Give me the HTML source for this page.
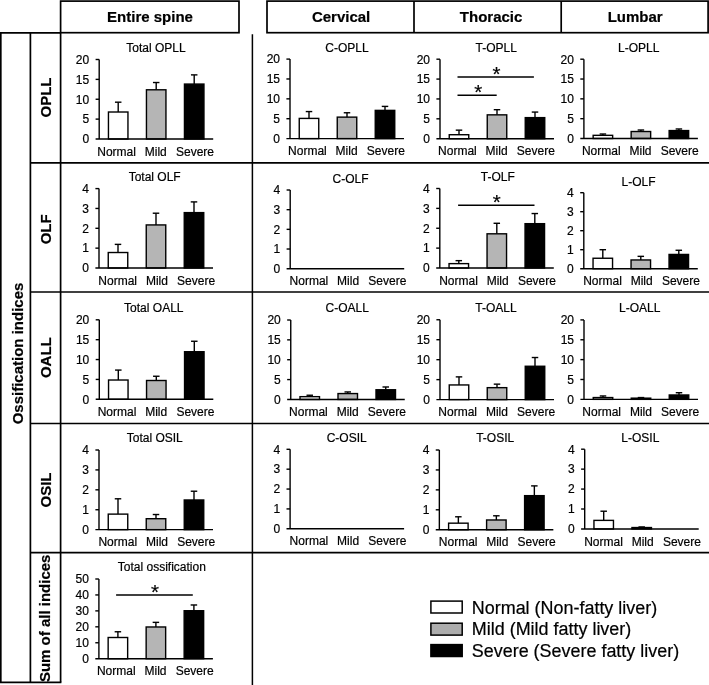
<!DOCTYPE html>
<html><head><meta charset="utf-8"><title>Ossification indices</title>
<style>
html,body{margin:0;padding:0;background:#fff;}
body{width:709px;height:685px;overflow:hidden;}
svg{display:block;will-change:transform;}
text{font-family:"Liberation Sans", sans-serif;fill:#000;stroke:#000;stroke-width:0.2px;}
</style></head>
<body>
<svg width="709" height="685" viewBox="0 0 709 685">
<rect width="709" height="685" fill="#fff"/>
<rect x="60.6" y="1.1" width="178.4" height="31.6" fill="none" stroke="#000" stroke-width="1.7"/>
<rect x="267" y="1.1" width="441.1" height="31.6" fill="none" stroke="#000" stroke-width="1.7"/>
<line x1="414" y1="1.1" x2="414" y2="32.7" stroke="#000" stroke-width="1.7"/>
<line x1="561.2" y1="1.1" x2="561.2" y2="32.7" stroke="#000" stroke-width="1.7"/>
<text x="150" y="22" font-size="15" text-anchor="middle" font-weight="bold">Entire spine</text>
<text x="341.1" y="22" font-size="15" text-anchor="middle" font-weight="bold">Cervical</text>
<text x="491.1" y="22" font-size="15" text-anchor="middle" font-weight="bold">Thoracic</text>
<text x="635.2" y="22" font-size="15" text-anchor="middle" font-weight="bold">Lumbar</text>
<line x1="0" y1="32.8" x2="60.6" y2="32.8" stroke="#000" stroke-width="1.7"/>
<line x1="0.8" y1="32.8" x2="0.8" y2="682.3" stroke="#000" stroke-width="1.7"/>
<line x1="30.4" y1="32.8" x2="30.4" y2="682.3" stroke="#000" stroke-width="1.7"/>
<line x1="60.6" y1="32.8" x2="60.6" y2="682.3" stroke="#000" stroke-width="1.7"/>
<line x1="0" y1="682.3" x2="61.4" y2="682.3" stroke="#000" stroke-width="1.7"/>
<line x1="30.4" y1="162.8" x2="709" y2="162.8" stroke="#000" stroke-width="1.7"/>
<line x1="30.4" y1="292" x2="709" y2="292" stroke="#000" stroke-width="1.7"/>
<line x1="30.4" y1="423.5" x2="709" y2="423.5" stroke="#000" stroke-width="1.7"/>
<line x1="30.4" y1="552.7" x2="709" y2="552.7" stroke="#000" stroke-width="1.7"/>
<line x1="252.4" y1="34.2" x2="252.4" y2="685" stroke="#000" stroke-width="1.5"/>
<text transform="translate(22.8,353.5) rotate(-90)" font-size="15" text-anchor="middle" font-weight="bold">Ossification indices</text>
<text transform="translate(50.6,97.5) rotate(-90)" font-size="15" text-anchor="middle" font-weight="bold">OPLL</text>
<text transform="translate(50.8,229.3) rotate(-90)" font-size="15" text-anchor="middle" font-weight="bold">OLF</text>
<text transform="translate(50.8,357.7) rotate(-90)" font-size="15" text-anchor="middle" font-weight="bold">OALL</text>
<text transform="translate(50.8,490) rotate(-90)" font-size="15" text-anchor="middle" font-weight="bold">OSIL</text>
<text transform="translate(50,618.3) rotate(-90)" font-size="15" text-anchor="middle" font-weight="bold">Sum of all indices</text>
<line x1="118.2" y1="112.01" x2="118.2" y2="102.19" stroke="#000" stroke-width="1.4"/>
<line x1="114.95" y1="102.19" x2="121.45" y2="102.19" stroke="#000" stroke-width="1.4"/>
<rect x="108.45" y="112.01" width="19.5" height="26.99" fill="#fff" stroke="#000" stroke-width="1.4"/>
<line x1="156.2" y1="89.79" x2="156.2" y2="82.52" stroke="#000" stroke-width="1.4"/>
<line x1="152.95" y1="82.52" x2="159.45" y2="82.52" stroke="#000" stroke-width="1.4"/>
<rect x="146.45" y="89.79" width="19.5" height="49.21" fill="#b5b5b5" stroke="#000" stroke-width="1.4"/>
<line x1="194.2" y1="84.07" x2="194.2" y2="74.88" stroke="#000" stroke-width="1.4"/>
<line x1="190.95" y1="74.88" x2="197.45" y2="74.88" stroke="#000" stroke-width="1.4"/>
<rect x="184.45" y="84.07" width="19.5" height="54.93" fill="#000" stroke="#000" stroke-width="1.4"/>
<line x1="99.2" y1="59.5" x2="99.2" y2="139" stroke="#000" stroke-width="1.4"/>
<line x1="95.6" y1="139" x2="213.2" y2="139" stroke="#000" stroke-width="1.4"/>
<text x="89.2" y="143.3" font-size="12" text-anchor="end">0</text>
<line x1="95.6" y1="119.12" x2="99.2" y2="119.12" stroke="#000" stroke-width="1.4"/>
<text x="89.2" y="123.42" font-size="12" text-anchor="end">5</text>
<line x1="95.6" y1="99.25" x2="99.2" y2="99.25" stroke="#000" stroke-width="1.4"/>
<text x="89.2" y="103.55" font-size="12" text-anchor="end">10</text>
<line x1="95.6" y1="79.38" x2="99.2" y2="79.38" stroke="#000" stroke-width="1.4"/>
<text x="89.2" y="83.67" font-size="12" text-anchor="end">15</text>
<line x1="95.6" y1="59.5" x2="99.2" y2="59.5" stroke="#000" stroke-width="1.4"/>
<text x="89.2" y="63.8" font-size="12" text-anchor="end">20</text>
<text x="116.6" y="155.6" font-size="12" text-anchor="middle">Normal</text>
<text x="155.8" y="155.6" font-size="12" text-anchor="middle">Mild</text>
<text x="195" y="155.6" font-size="12" text-anchor="middle">Severe</text>
<text x="155.9" y="51.8" font-size="12" text-anchor="middle">Total OPLL</text>
<line x1="309" y1="118.41" x2="309" y2="111.57" stroke="#000" stroke-width="1.4"/>
<line x1="305.75" y1="111.57" x2="312.25" y2="111.57" stroke="#000" stroke-width="1.4"/>
<rect x="299.25" y="118.41" width="19.5" height="20.19" fill="#fff" stroke="#000" stroke-width="1.4"/>
<line x1="347" y1="117.13" x2="347" y2="112.76" stroke="#000" stroke-width="1.4"/>
<line x1="343.75" y1="112.76" x2="350.25" y2="112.76" stroke="#000" stroke-width="1.4"/>
<rect x="337.25" y="117.13" width="19.5" height="21.47" fill="#b5b5b5" stroke="#000" stroke-width="1.4"/>
<line x1="385" y1="110.38" x2="385" y2="106.4" stroke="#000" stroke-width="1.4"/>
<line x1="381.75" y1="106.4" x2="388.25" y2="106.4" stroke="#000" stroke-width="1.4"/>
<rect x="375.25" y="110.38" width="19.5" height="28.22" fill="#000" stroke="#000" stroke-width="1.4"/>
<line x1="290" y1="59.1" x2="290" y2="138.6" stroke="#000" stroke-width="1.4"/>
<line x1="286.4" y1="138.6" x2="404" y2="138.6" stroke="#000" stroke-width="1.4"/>
<text x="280" y="142.9" font-size="12" text-anchor="end">0</text>
<line x1="286.4" y1="118.72" x2="290" y2="118.72" stroke="#000" stroke-width="1.4"/>
<text x="280" y="123.02" font-size="12" text-anchor="end">5</text>
<line x1="286.4" y1="98.85" x2="290" y2="98.85" stroke="#000" stroke-width="1.4"/>
<text x="280" y="103.15" font-size="12" text-anchor="end">10</text>
<line x1="286.4" y1="78.97" x2="290" y2="78.97" stroke="#000" stroke-width="1.4"/>
<text x="280" y="83.27" font-size="12" text-anchor="end">15</text>
<line x1="286.4" y1="59.1" x2="290" y2="59.1" stroke="#000" stroke-width="1.4"/>
<text x="280" y="63.4" font-size="12" text-anchor="end">20</text>
<text x="307.4" y="155.2" font-size="12" text-anchor="middle">Normal</text>
<text x="346.6" y="155.2" font-size="12" text-anchor="middle">Mild</text>
<text x="385.8" y="155.2" font-size="12" text-anchor="middle">Severe</text>
<text x="347" y="51.5" font-size="12" text-anchor="middle">C-OPLL</text>
<line x1="459" y1="134.72" x2="459" y2="130.15" stroke="#000" stroke-width="1.4"/>
<line x1="455.75" y1="130.15" x2="462.25" y2="130.15" stroke="#000" stroke-width="1.4"/>
<rect x="449.25" y="134.72" width="19.5" height="3.97" fill="#fff" stroke="#000" stroke-width="1.4"/>
<line x1="497" y1="114.85" x2="497" y2="109.68" stroke="#000" stroke-width="1.4"/>
<line x1="493.75" y1="109.68" x2="500.25" y2="109.68" stroke="#000" stroke-width="1.4"/>
<rect x="487.25" y="114.85" width="19.5" height="23.85" fill="#b5b5b5" stroke="#000" stroke-width="1.4"/>
<line x1="535" y1="117.63" x2="535" y2="112.07" stroke="#000" stroke-width="1.4"/>
<line x1="531.75" y1="112.07" x2="538.25" y2="112.07" stroke="#000" stroke-width="1.4"/>
<rect x="525.25" y="117.63" width="19.5" height="21.07" fill="#000" stroke="#000" stroke-width="1.4"/>
<line x1="440" y1="59.2" x2="440" y2="138.7" stroke="#000" stroke-width="1.4"/>
<line x1="436.4" y1="138.7" x2="554" y2="138.7" stroke="#000" stroke-width="1.4"/>
<text x="430" y="143" font-size="12" text-anchor="end">0</text>
<line x1="436.4" y1="118.82" x2="440" y2="118.82" stroke="#000" stroke-width="1.4"/>
<text x="430" y="123.12" font-size="12" text-anchor="end">5</text>
<line x1="436.4" y1="98.95" x2="440" y2="98.95" stroke="#000" stroke-width="1.4"/>
<text x="430" y="103.25" font-size="12" text-anchor="end">10</text>
<line x1="436.4" y1="79.08" x2="440" y2="79.08" stroke="#000" stroke-width="1.4"/>
<text x="430" y="83.38" font-size="12" text-anchor="end">15</text>
<line x1="436.4" y1="59.2" x2="440" y2="59.2" stroke="#000" stroke-width="1.4"/>
<text x="430" y="63.5" font-size="12" text-anchor="end">20</text>
<text x="457.4" y="155.3" font-size="12" text-anchor="middle">Normal</text>
<text x="496.6" y="155.3" font-size="12" text-anchor="middle">Mild</text>
<text x="535.8" y="155.3" font-size="12" text-anchor="middle">Severe</text>
<text x="496.2" y="51.7" font-size="12" text-anchor="middle">T-OPLL</text>
<line x1="457.5" y1="76.9" x2="533.9" y2="76.9" stroke="#000" stroke-width="1.5"/>
<text x="496.45" y="80.9" font-size="20.5" text-anchor="middle">*</text>
<line x1="457.5" y1="95.3" x2="496.7" y2="95.3" stroke="#000" stroke-width="1.5"/>
<text x="478.2" y="99.3" font-size="20.5" text-anchor="middle">*</text>
<line x1="602.9" y1="135.33" x2="602.9" y2="134.02" stroke="#000" stroke-width="1.4"/>
<line x1="599.65" y1="134.02" x2="606.15" y2="134.02" stroke="#000" stroke-width="1.4"/>
<rect x="593.15" y="135.33" width="19.5" height="3.17" fill="#fff" stroke="#000" stroke-width="1.4"/>
<line x1="640.9" y1="131.52" x2="640.9" y2="130.01" stroke="#000" stroke-width="1.4"/>
<line x1="637.65" y1="130.01" x2="644.15" y2="130.01" stroke="#000" stroke-width="1.4"/>
<rect x="631.15" y="131.52" width="19.5" height="6.98" fill="#b5b5b5" stroke="#000" stroke-width="1.4"/>
<line x1="678.9" y1="130.57" x2="678.9" y2="128.98" stroke="#000" stroke-width="1.4"/>
<line x1="675.65" y1="128.98" x2="682.15" y2="128.98" stroke="#000" stroke-width="1.4"/>
<rect x="669.15" y="130.57" width="19.5" height="7.93" fill="#000" stroke="#000" stroke-width="1.4"/>
<line x1="583.9" y1="59.2" x2="583.9" y2="138.5" stroke="#000" stroke-width="1.4"/>
<line x1="580.3" y1="138.5" x2="697.9" y2="138.5" stroke="#000" stroke-width="1.4"/>
<text x="573.9" y="142.8" font-size="12" text-anchor="end">0</text>
<line x1="580.3" y1="118.67" x2="583.9" y2="118.67" stroke="#000" stroke-width="1.4"/>
<text x="573.9" y="122.97" font-size="12" text-anchor="end">5</text>
<line x1="580.3" y1="98.85" x2="583.9" y2="98.85" stroke="#000" stroke-width="1.4"/>
<text x="573.9" y="103.15" font-size="12" text-anchor="end">10</text>
<line x1="580.3" y1="79.03" x2="583.9" y2="79.03" stroke="#000" stroke-width="1.4"/>
<text x="573.9" y="83.33" font-size="12" text-anchor="end">15</text>
<line x1="580.3" y1="59.2" x2="583.9" y2="59.2" stroke="#000" stroke-width="1.4"/>
<text x="573.9" y="63.5" font-size="12" text-anchor="end">20</text>
<text x="601.3" y="155.1" font-size="12" text-anchor="middle">Normal</text>
<text x="640.5" y="155.1" font-size="12" text-anchor="middle">Mild</text>
<text x="679.7" y="155.1" font-size="12" text-anchor="middle">Severe</text>
<text x="638.7" y="51.7" font-size="12" text-anchor="middle">L-OPLL</text>
<line x1="118" y1="252.52" x2="118" y2="244.38" stroke="#000" stroke-width="1.4"/>
<line x1="114.75" y1="244.38" x2="121.25" y2="244.38" stroke="#000" stroke-width="1.4"/>
<rect x="108.25" y="252.52" width="19.5" height="15.48" fill="#fff" stroke="#000" stroke-width="1.4"/>
<line x1="156" y1="224.93" x2="156" y2="213.21" stroke="#000" stroke-width="1.4"/>
<line x1="152.75" y1="213.21" x2="159.25" y2="213.21" stroke="#000" stroke-width="1.4"/>
<rect x="146.25" y="224.93" width="19.5" height="43.07" fill="#b5b5b5" stroke="#000" stroke-width="1.4"/>
<line x1="194" y1="212.62" x2="194" y2="201.9" stroke="#000" stroke-width="1.4"/>
<line x1="190.75" y1="201.9" x2="197.25" y2="201.9" stroke="#000" stroke-width="1.4"/>
<rect x="184.25" y="212.62" width="19.5" height="55.38" fill="#000" stroke="#000" stroke-width="1.4"/>
<line x1="99" y1="188.6" x2="99" y2="268" stroke="#000" stroke-width="1.4"/>
<line x1="95.4" y1="268" x2="213" y2="268" stroke="#000" stroke-width="1.4"/>
<text x="89" y="272.3" font-size="12" text-anchor="end">0</text>
<line x1="95.4" y1="248.15" x2="99" y2="248.15" stroke="#000" stroke-width="1.4"/>
<text x="89" y="252.45" font-size="12" text-anchor="end">1</text>
<line x1="95.4" y1="228.3" x2="99" y2="228.3" stroke="#000" stroke-width="1.4"/>
<text x="89" y="232.6" font-size="12" text-anchor="end">2</text>
<line x1="95.4" y1="208.45" x2="99" y2="208.45" stroke="#000" stroke-width="1.4"/>
<text x="89" y="212.75" font-size="12" text-anchor="end">3</text>
<line x1="95.4" y1="188.6" x2="99" y2="188.6" stroke="#000" stroke-width="1.4"/>
<text x="89" y="192.9" font-size="12" text-anchor="end">4</text>
<text x="117.7" y="284.6" font-size="12" text-anchor="middle">Normal</text>
<text x="156.9" y="284.6" font-size="12" text-anchor="middle">Mild</text>
<text x="196.1" y="284.6" font-size="12" text-anchor="middle">Severe</text>
<text x="154.7" y="181.4" font-size="12" text-anchor="middle">Total OLF</text>
<line x1="290.2" y1="190" x2="290.2" y2="268.7" stroke="#000" stroke-width="1.4"/>
<line x1="286.6" y1="268.7" x2="404.2" y2="268.7" stroke="#000" stroke-width="1.4"/>
<text x="280.2" y="273" font-size="12" text-anchor="end">0</text>
<line x1="286.6" y1="249.02" x2="290.2" y2="249.02" stroke="#000" stroke-width="1.4"/>
<text x="280.2" y="253.32" font-size="12" text-anchor="end">1</text>
<line x1="286.6" y1="229.35" x2="290.2" y2="229.35" stroke="#000" stroke-width="1.4"/>
<text x="280.2" y="233.65" font-size="12" text-anchor="end">2</text>
<line x1="286.6" y1="209.68" x2="290.2" y2="209.68" stroke="#000" stroke-width="1.4"/>
<text x="280.2" y="213.98" font-size="12" text-anchor="end">3</text>
<line x1="286.6" y1="190" x2="290.2" y2="190" stroke="#000" stroke-width="1.4"/>
<text x="280.2" y="194.3" font-size="12" text-anchor="end">4</text>
<text x="308.9" y="285.3" font-size="12" text-anchor="middle">Normal</text>
<text x="348.1" y="285.3" font-size="12" text-anchor="middle">Mild</text>
<text x="387.3" y="285.3" font-size="12" text-anchor="middle">Severe</text>
<text x="350.6" y="182.8" font-size="12" text-anchor="middle">C-OLF</text>
<line x1="458.8" y1="263.63" x2="458.8" y2="260.65" stroke="#000" stroke-width="1.4"/>
<line x1="455.55" y1="260.65" x2="462.05" y2="260.65" stroke="#000" stroke-width="1.4"/>
<rect x="449.05" y="263.63" width="19.5" height="4.37" fill="#fff" stroke="#000" stroke-width="1.4"/>
<line x1="496.8" y1="233.81" x2="496.8" y2="223.28" stroke="#000" stroke-width="1.4"/>
<line x1="493.55" y1="223.28" x2="500.05" y2="223.28" stroke="#000" stroke-width="1.4"/>
<rect x="487.05" y="233.81" width="19.5" height="34.19" fill="#b5b5b5" stroke="#000" stroke-width="1.4"/>
<line x1="534.8" y1="223.68" x2="534.8" y2="213.54" stroke="#000" stroke-width="1.4"/>
<line x1="531.55" y1="213.54" x2="538.05" y2="213.54" stroke="#000" stroke-width="1.4"/>
<rect x="525.05" y="223.68" width="19.5" height="44.32" fill="#000" stroke="#000" stroke-width="1.4"/>
<line x1="439.8" y1="188.5" x2="439.8" y2="268" stroke="#000" stroke-width="1.4"/>
<line x1="436.2" y1="268" x2="553.8" y2="268" stroke="#000" stroke-width="1.4"/>
<text x="429.8" y="272.3" font-size="12" text-anchor="end">0</text>
<line x1="436.2" y1="248.12" x2="439.8" y2="248.12" stroke="#000" stroke-width="1.4"/>
<text x="429.8" y="252.43" font-size="12" text-anchor="end">1</text>
<line x1="436.2" y1="228.25" x2="439.8" y2="228.25" stroke="#000" stroke-width="1.4"/>
<text x="429.8" y="232.55" font-size="12" text-anchor="end">2</text>
<line x1="436.2" y1="208.38" x2="439.8" y2="208.38" stroke="#000" stroke-width="1.4"/>
<text x="429.8" y="212.68" font-size="12" text-anchor="end">3</text>
<line x1="436.2" y1="188.5" x2="439.8" y2="188.5" stroke="#000" stroke-width="1.4"/>
<text x="429.8" y="192.8" font-size="12" text-anchor="end">4</text>
<text x="458.5" y="284.6" font-size="12" text-anchor="middle">Normal</text>
<text x="497.7" y="284.6" font-size="12" text-anchor="middle">Mild</text>
<text x="536.9" y="284.6" font-size="12" text-anchor="middle">Severe</text>
<text x="497.8" y="181.1" font-size="12" text-anchor="middle">T-OLF</text>
<line x1="458.1" y1="205.3" x2="534.5" y2="205.3" stroke="#000" stroke-width="1.5"/>
<text x="496.85" y="209.3" font-size="20.5" text-anchor="middle">*</text>
<line x1="602.8" y1="258.25" x2="602.8" y2="249.7" stroke="#000" stroke-width="1.4"/>
<line x1="599.55" y1="249.7" x2="606.05" y2="249.7" stroke="#000" stroke-width="1.4"/>
<rect x="593.05" y="258.25" width="19.5" height="10.45" fill="#fff" stroke="#000" stroke-width="1.4"/>
<line x1="640.8" y1="259.96" x2="640.8" y2="256.35" stroke="#000" stroke-width="1.4"/>
<line x1="637.55" y1="256.35" x2="644.05" y2="256.35" stroke="#000" stroke-width="1.4"/>
<rect x="631.05" y="259.96" width="19.5" height="8.74" fill="#b5b5b5" stroke="#000" stroke-width="1.4"/>
<line x1="678.8" y1="254.45" x2="678.8" y2="250.27" stroke="#000" stroke-width="1.4"/>
<line x1="675.55" y1="250.27" x2="682.05" y2="250.27" stroke="#000" stroke-width="1.4"/>
<rect x="669.05" y="254.45" width="19.5" height="14.25" fill="#000" stroke="#000" stroke-width="1.4"/>
<line x1="583.8" y1="192.7" x2="583.8" y2="268.7" stroke="#000" stroke-width="1.4"/>
<line x1="580.2" y1="268.7" x2="697.8" y2="268.7" stroke="#000" stroke-width="1.4"/>
<text x="573.8" y="273" font-size="12" text-anchor="end">0</text>
<line x1="580.2" y1="249.7" x2="583.8" y2="249.7" stroke="#000" stroke-width="1.4"/>
<text x="573.8" y="254" font-size="12" text-anchor="end">1</text>
<line x1="580.2" y1="230.7" x2="583.8" y2="230.7" stroke="#000" stroke-width="1.4"/>
<text x="573.8" y="235" font-size="12" text-anchor="end">2</text>
<line x1="580.2" y1="211.7" x2="583.8" y2="211.7" stroke="#000" stroke-width="1.4"/>
<text x="573.8" y="216" font-size="12" text-anchor="end">3</text>
<line x1="580.2" y1="192.7" x2="583.8" y2="192.7" stroke="#000" stroke-width="1.4"/>
<text x="573.8" y="197" font-size="12" text-anchor="end">4</text>
<text x="602.5" y="285.3" font-size="12" text-anchor="middle">Normal</text>
<text x="641.7" y="285.3" font-size="12" text-anchor="middle">Mild</text>
<text x="680.9" y="285.3" font-size="12" text-anchor="middle">Severe</text>
<text x="638.55" y="186.4" font-size="12" text-anchor="middle">L-OLF</text>
<line x1="118.3" y1="380.02" x2="118.3" y2="370.08" stroke="#000" stroke-width="1.4"/>
<line x1="115.05" y1="370.08" x2="121.55" y2="370.08" stroke="#000" stroke-width="1.4"/>
<rect x="108.55" y="380.02" width="19.5" height="19.28" fill="#fff" stroke="#000" stroke-width="1.4"/>
<line x1="156.3" y1="380.5" x2="156.3" y2="376.25" stroke="#000" stroke-width="1.4"/>
<line x1="153.05" y1="376.25" x2="159.55" y2="376.25" stroke="#000" stroke-width="1.4"/>
<rect x="146.55" y="380.5" width="19.5" height="18.8" fill="#b5b5b5" stroke="#000" stroke-width="1.4"/>
<line x1="194.3" y1="351.72" x2="194.3" y2="341.26" stroke="#000" stroke-width="1.4"/>
<line x1="191.05" y1="341.26" x2="197.55" y2="341.26" stroke="#000" stroke-width="1.4"/>
<rect x="184.55" y="351.72" width="19.5" height="47.58" fill="#000" stroke="#000" stroke-width="1.4"/>
<line x1="99.3" y1="319.8" x2="99.3" y2="399.3" stroke="#000" stroke-width="1.4"/>
<line x1="95.7" y1="399.3" x2="213.3" y2="399.3" stroke="#000" stroke-width="1.4"/>
<text x="89.3" y="403.6" font-size="12" text-anchor="end">0</text>
<line x1="95.7" y1="379.43" x2="99.3" y2="379.43" stroke="#000" stroke-width="1.4"/>
<text x="89.3" y="383.73" font-size="12" text-anchor="end">5</text>
<line x1="95.7" y1="359.55" x2="99.3" y2="359.55" stroke="#000" stroke-width="1.4"/>
<text x="89.3" y="363.85" font-size="12" text-anchor="end">10</text>
<line x1="95.7" y1="339.68" x2="99.3" y2="339.68" stroke="#000" stroke-width="1.4"/>
<text x="89.3" y="343.98" font-size="12" text-anchor="end">15</text>
<line x1="95.7" y1="319.8" x2="99.3" y2="319.8" stroke="#000" stroke-width="1.4"/>
<text x="89.3" y="324.1" font-size="12" text-anchor="end">20</text>
<text x="117" y="415.9" font-size="12" text-anchor="middle">Normal</text>
<text x="156.2" y="415.9" font-size="12" text-anchor="middle">Mild</text>
<text x="195.4" y="415.9" font-size="12" text-anchor="middle">Severe</text>
<text x="153.8" y="311.6" font-size="12" text-anchor="middle">Total OALL</text>
<line x1="309.75" y1="396.67" x2="309.75" y2="395.24" stroke="#000" stroke-width="1.4"/>
<line x1="306.5" y1="395.24" x2="313" y2="395.24" stroke="#000" stroke-width="1.4"/>
<rect x="300" y="396.67" width="19.5" height="2.78" fill="#fff" stroke="#000" stroke-width="1.4"/>
<line x1="347.75" y1="393.57" x2="347.75" y2="391.94" stroke="#000" stroke-width="1.4"/>
<line x1="344.5" y1="391.94" x2="351" y2="391.94" stroke="#000" stroke-width="1.4"/>
<rect x="338" y="393.57" width="19.5" height="5.88" fill="#b5b5b5" stroke="#000" stroke-width="1.4"/>
<line x1="385.75" y1="389.76" x2="385.75" y2="386.98" stroke="#000" stroke-width="1.4"/>
<line x1="382.5" y1="386.98" x2="389" y2="386.98" stroke="#000" stroke-width="1.4"/>
<rect x="376" y="389.76" width="19.5" height="9.69" fill="#000" stroke="#000" stroke-width="1.4"/>
<line x1="290.75" y1="320" x2="290.75" y2="399.45" stroke="#000" stroke-width="1.4"/>
<line x1="287.15" y1="399.45" x2="404.75" y2="399.45" stroke="#000" stroke-width="1.4"/>
<text x="280.75" y="403.75" font-size="12" text-anchor="end">0</text>
<line x1="287.15" y1="379.59" x2="290.75" y2="379.59" stroke="#000" stroke-width="1.4"/>
<text x="280.75" y="383.89" font-size="12" text-anchor="end">5</text>
<line x1="287.15" y1="359.73" x2="290.75" y2="359.73" stroke="#000" stroke-width="1.4"/>
<text x="280.75" y="364.03" font-size="12" text-anchor="end">10</text>
<line x1="287.15" y1="339.86" x2="290.75" y2="339.86" stroke="#000" stroke-width="1.4"/>
<text x="280.75" y="344.16" font-size="12" text-anchor="end">15</text>
<line x1="287.15" y1="320" x2="290.75" y2="320" stroke="#000" stroke-width="1.4"/>
<text x="280.75" y="324.3" font-size="12" text-anchor="end">20</text>
<text x="308.45" y="416.05" font-size="12" text-anchor="middle">Normal</text>
<text x="347.65" y="416.05" font-size="12" text-anchor="middle">Mild</text>
<text x="386.85" y="416.05" font-size="12" text-anchor="middle">Severe</text>
<text x="347.15" y="312.2" font-size="12" text-anchor="middle">C-OALL</text>
<line x1="459" y1="384.95" x2="459" y2="376.88" stroke="#000" stroke-width="1.4"/>
<line x1="455.75" y1="376.88" x2="462.25" y2="376.88" stroke="#000" stroke-width="1.4"/>
<rect x="449.25" y="384.95" width="19.5" height="14.65" fill="#fff" stroke="#000" stroke-width="1.4"/>
<line x1="497" y1="387.66" x2="497" y2="384.15" stroke="#000" stroke-width="1.4"/>
<line x1="493.75" y1="384.15" x2="500.25" y2="384.15" stroke="#000" stroke-width="1.4"/>
<rect x="487.25" y="387.66" width="19.5" height="11.94" fill="#b5b5b5" stroke="#000" stroke-width="1.4"/>
<line x1="535" y1="366.26" x2="535" y2="357.52" stroke="#000" stroke-width="1.4"/>
<line x1="531.75" y1="357.52" x2="538.25" y2="357.52" stroke="#000" stroke-width="1.4"/>
<rect x="525.25" y="366.26" width="19.5" height="33.34" fill="#000" stroke="#000" stroke-width="1.4"/>
<line x1="440" y1="319.75" x2="440" y2="399.6" stroke="#000" stroke-width="1.4"/>
<line x1="436.4" y1="399.6" x2="554" y2="399.6" stroke="#000" stroke-width="1.4"/>
<text x="430" y="403.9" font-size="12" text-anchor="end">0</text>
<line x1="436.4" y1="379.64" x2="440" y2="379.64" stroke="#000" stroke-width="1.4"/>
<text x="430" y="383.94" font-size="12" text-anchor="end">5</text>
<line x1="436.4" y1="359.68" x2="440" y2="359.68" stroke="#000" stroke-width="1.4"/>
<text x="430" y="363.98" font-size="12" text-anchor="end">10</text>
<line x1="436.4" y1="339.71" x2="440" y2="339.71" stroke="#000" stroke-width="1.4"/>
<text x="430" y="344.01" font-size="12" text-anchor="end">15</text>
<line x1="436.4" y1="319.75" x2="440" y2="319.75" stroke="#000" stroke-width="1.4"/>
<text x="430" y="324.05" font-size="12" text-anchor="end">20</text>
<text x="457.7" y="416.2" font-size="12" text-anchor="middle">Normal</text>
<text x="496.9" y="416.2" font-size="12" text-anchor="middle">Mild</text>
<text x="536.1" y="416.2" font-size="12" text-anchor="middle">Severe</text>
<text x="495.95" y="311.7" font-size="12" text-anchor="middle">T-OALL</text>
<line x1="603" y1="397.56" x2="603" y2="395.97" stroke="#000" stroke-width="1.4"/>
<line x1="599.75" y1="395.97" x2="606.25" y2="395.97" stroke="#000" stroke-width="1.4"/>
<rect x="593.25" y="397.56" width="19.5" height="1.79" fill="#fff" stroke="#000" stroke-width="1.4"/>
<line x1="641" y1="398.16" x2="641" y2="397.56" stroke="#000" stroke-width="1.4"/>
<line x1="637.75" y1="397.56" x2="644.25" y2="397.56" stroke="#000" stroke-width="1.4"/>
<rect x="631.25" y="398.16" width="19.5" height="1.19" fill="#b5b5b5" stroke="#000" stroke-width="1.4"/>
<line x1="679" y1="394.98" x2="679" y2="392.72" stroke="#000" stroke-width="1.4"/>
<line x1="675.75" y1="392.72" x2="682.25" y2="392.72" stroke="#000" stroke-width="1.4"/>
<rect x="669.25" y="394.98" width="19.5" height="4.37" fill="#000" stroke="#000" stroke-width="1.4"/>
<line x1="584" y1="319.9" x2="584" y2="399.35" stroke="#000" stroke-width="1.4"/>
<line x1="580.4" y1="399.35" x2="698" y2="399.35" stroke="#000" stroke-width="1.4"/>
<text x="574" y="403.65" font-size="12" text-anchor="end">0</text>
<line x1="580.4" y1="379.49" x2="584" y2="379.49" stroke="#000" stroke-width="1.4"/>
<text x="574" y="383.79" font-size="12" text-anchor="end">5</text>
<line x1="580.4" y1="359.62" x2="584" y2="359.62" stroke="#000" stroke-width="1.4"/>
<text x="574" y="363.93" font-size="12" text-anchor="end">10</text>
<line x1="580.4" y1="339.76" x2="584" y2="339.76" stroke="#000" stroke-width="1.4"/>
<text x="574" y="344.06" font-size="12" text-anchor="end">15</text>
<line x1="580.4" y1="319.9" x2="584" y2="319.9" stroke="#000" stroke-width="1.4"/>
<text x="574" y="324.2" font-size="12" text-anchor="end">20</text>
<text x="601.7" y="415.95" font-size="12" text-anchor="middle">Normal</text>
<text x="640.9" y="415.95" font-size="12" text-anchor="middle">Mild</text>
<text x="680.1" y="415.95" font-size="12" text-anchor="middle">Severe</text>
<text x="639.7" y="312.2" font-size="12" text-anchor="middle">L-OALL</text>
<line x1="118" y1="514.12" x2="118" y2="498.79" stroke="#000" stroke-width="1.4"/>
<line x1="114.75" y1="498.79" x2="121.25" y2="498.79" stroke="#000" stroke-width="1.4"/>
<rect x="108.25" y="514.12" width="19.5" height="15.53" fill="#fff" stroke="#000" stroke-width="1.4"/>
<line x1="156" y1="518.7" x2="156" y2="514.52" stroke="#000" stroke-width="1.4"/>
<line x1="152.75" y1="514.52" x2="159.25" y2="514.52" stroke="#000" stroke-width="1.4"/>
<rect x="146.25" y="518.7" width="19.5" height="10.95" fill="#b5b5b5" stroke="#000" stroke-width="1.4"/>
<line x1="194" y1="499.98" x2="194" y2="491.22" stroke="#000" stroke-width="1.4"/>
<line x1="190.75" y1="491.22" x2="197.25" y2="491.22" stroke="#000" stroke-width="1.4"/>
<rect x="184.25" y="499.98" width="19.5" height="29.67" fill="#000" stroke="#000" stroke-width="1.4"/>
<line x1="99" y1="450" x2="99" y2="529.65" stroke="#000" stroke-width="1.4"/>
<line x1="95.4" y1="529.65" x2="213" y2="529.65" stroke="#000" stroke-width="1.4"/>
<text x="89" y="533.95" font-size="12" text-anchor="end">0</text>
<line x1="95.4" y1="509.74" x2="99" y2="509.74" stroke="#000" stroke-width="1.4"/>
<text x="89" y="514.04" font-size="12" text-anchor="end">1</text>
<line x1="95.4" y1="489.82" x2="99" y2="489.82" stroke="#000" stroke-width="1.4"/>
<text x="89" y="494.12" font-size="12" text-anchor="end">2</text>
<line x1="95.4" y1="469.91" x2="99" y2="469.91" stroke="#000" stroke-width="1.4"/>
<text x="89" y="474.21" font-size="12" text-anchor="end">3</text>
<line x1="95.4" y1="450" x2="99" y2="450" stroke="#000" stroke-width="1.4"/>
<text x="89" y="454.3" font-size="12" text-anchor="end">4</text>
<text x="117.8" y="546.25" font-size="12" text-anchor="middle">Normal</text>
<text x="157" y="546.25" font-size="12" text-anchor="middle">Mild</text>
<text x="196.2" y="546.25" font-size="12" text-anchor="middle">Severe</text>
<text x="154.75" y="442.4" font-size="12" text-anchor="middle">Total OSIL</text>
<line x1="290.1" y1="449.3" x2="290.1" y2="528.8" stroke="#000" stroke-width="1.4"/>
<line x1="286.5" y1="528.8" x2="404.1" y2="528.8" stroke="#000" stroke-width="1.4"/>
<text x="280.1" y="533.1" font-size="12" text-anchor="end">0</text>
<line x1="286.5" y1="508.92" x2="290.1" y2="508.92" stroke="#000" stroke-width="1.4"/>
<text x="280.1" y="513.22" font-size="12" text-anchor="end">1</text>
<line x1="286.5" y1="489.05" x2="290.1" y2="489.05" stroke="#000" stroke-width="1.4"/>
<text x="280.1" y="493.35" font-size="12" text-anchor="end">2</text>
<line x1="286.5" y1="469.18" x2="290.1" y2="469.18" stroke="#000" stroke-width="1.4"/>
<text x="280.1" y="473.48" font-size="12" text-anchor="end">3</text>
<line x1="286.5" y1="449.3" x2="290.1" y2="449.3" stroke="#000" stroke-width="1.4"/>
<text x="280.1" y="453.6" font-size="12" text-anchor="end">4</text>
<text x="308.9" y="545.4" font-size="12" text-anchor="middle">Normal</text>
<text x="348.1" y="545.4" font-size="12" text-anchor="middle">Mild</text>
<text x="387.3" y="545.4" font-size="12" text-anchor="middle">Severe</text>
<text x="346.65" y="441.8" font-size="12" text-anchor="middle">C-OSIL</text>
<line x1="458.35" y1="523.17" x2="458.35" y2="516.79" stroke="#000" stroke-width="1.4"/>
<line x1="455.1" y1="516.79" x2="461.6" y2="516.79" stroke="#000" stroke-width="1.4"/>
<rect x="448.6" y="523.17" width="19.5" height="6.58" fill="#fff" stroke="#000" stroke-width="1.4"/>
<line x1="496.35" y1="519.98" x2="496.35" y2="515.79" stroke="#000" stroke-width="1.4"/>
<line x1="493.1" y1="515.79" x2="499.6" y2="515.79" stroke="#000" stroke-width="1.4"/>
<rect x="486.6" y="519.98" width="19.5" height="9.77" fill="#b5b5b5" stroke="#000" stroke-width="1.4"/>
<line x1="534.35" y1="495.66" x2="534.35" y2="485.89" stroke="#000" stroke-width="1.4"/>
<line x1="531.1" y1="485.89" x2="537.6" y2="485.89" stroke="#000" stroke-width="1.4"/>
<rect x="524.6" y="495.66" width="19.5" height="34.09" fill="#000" stroke="#000" stroke-width="1.4"/>
<line x1="439.35" y1="450" x2="439.35" y2="529.75" stroke="#000" stroke-width="1.4"/>
<line x1="435.75" y1="529.75" x2="553.35" y2="529.75" stroke="#000" stroke-width="1.4"/>
<text x="429.35" y="534.05" font-size="12" text-anchor="end">0</text>
<line x1="435.75" y1="509.81" x2="439.35" y2="509.81" stroke="#000" stroke-width="1.4"/>
<text x="429.35" y="514.11" font-size="12" text-anchor="end">1</text>
<line x1="435.75" y1="489.88" x2="439.35" y2="489.88" stroke="#000" stroke-width="1.4"/>
<text x="429.35" y="494.18" font-size="12" text-anchor="end">2</text>
<line x1="435.75" y1="469.94" x2="439.35" y2="469.94" stroke="#000" stroke-width="1.4"/>
<text x="429.35" y="474.24" font-size="12" text-anchor="end">3</text>
<line x1="435.75" y1="450" x2="439.35" y2="450" stroke="#000" stroke-width="1.4"/>
<text x="429.35" y="454.3" font-size="12" text-anchor="end">4</text>
<text x="458.15" y="546.35" font-size="12" text-anchor="middle">Normal</text>
<text x="497.35" y="546.35" font-size="12" text-anchor="middle">Mild</text>
<text x="536.55" y="546.35" font-size="12" text-anchor="middle">Severe</text>
<text x="495.15" y="442" font-size="12" text-anchor="middle">T-OSIL</text>
<line x1="603.7" y1="520.38" x2="603.7" y2="511.21" stroke="#000" stroke-width="1.4"/>
<line x1="600.45" y1="511.21" x2="606.95" y2="511.21" stroke="#000" stroke-width="1.4"/>
<rect x="593.95" y="520.38" width="19.5" height="8.57" fill="#fff" stroke="#000" stroke-width="1.4"/>
<line x1="641.7" y1="527.55" x2="641.7" y2="526.96" stroke="#000" stroke-width="1.4"/>
<line x1="638.45" y1="526.96" x2="644.95" y2="526.96" stroke="#000" stroke-width="1.4"/>
<rect x="631.95" y="527.55" width="19.5" height="1.4" fill="#b5b5b5" stroke="#000" stroke-width="1.4"/>
<line x1="584.7" y1="449.2" x2="584.7" y2="528.95" stroke="#000" stroke-width="1.4"/>
<line x1="581.1" y1="528.95" x2="698.7" y2="528.95" stroke="#000" stroke-width="1.4"/>
<text x="574.7" y="533.25" font-size="12" text-anchor="end">0</text>
<line x1="581.1" y1="509.01" x2="584.7" y2="509.01" stroke="#000" stroke-width="1.4"/>
<text x="574.7" y="513.31" font-size="12" text-anchor="end">1</text>
<line x1="581.1" y1="489.08" x2="584.7" y2="489.08" stroke="#000" stroke-width="1.4"/>
<text x="574.7" y="493.38" font-size="12" text-anchor="end">2</text>
<line x1="581.1" y1="469.14" x2="584.7" y2="469.14" stroke="#000" stroke-width="1.4"/>
<text x="574.7" y="473.44" font-size="12" text-anchor="end">3</text>
<line x1="581.1" y1="449.2" x2="584.7" y2="449.2" stroke="#000" stroke-width="1.4"/>
<text x="574.7" y="453.5" font-size="12" text-anchor="end">4</text>
<text x="603.5" y="545.55" font-size="12" text-anchor="middle">Normal</text>
<text x="642.7" y="545.55" font-size="12" text-anchor="middle">Mild</text>
<text x="681.9" y="545.55" font-size="12" text-anchor="middle">Severe</text>
<text x="640.35" y="441.8" font-size="12" text-anchor="middle">L-OSIL</text>
<line x1="117.9" y1="637.5" x2="117.9" y2="631.76" stroke="#000" stroke-width="1.4"/>
<line x1="114.65" y1="631.76" x2="121.15" y2="631.76" stroke="#000" stroke-width="1.4"/>
<rect x="108.15" y="637.5" width="19.5" height="21.2" fill="#fff" stroke="#000" stroke-width="1.4"/>
<line x1="155.9" y1="626.98" x2="155.9" y2="622.36" stroke="#000" stroke-width="1.4"/>
<line x1="152.65" y1="622.36" x2="159.15" y2="622.36" stroke="#000" stroke-width="1.4"/>
<rect x="146.15" y="626.98" width="19.5" height="31.72" fill="#b5b5b5" stroke="#000" stroke-width="1.4"/>
<line x1="193.9" y1="610.72" x2="193.9" y2="604.98" stroke="#000" stroke-width="1.4"/>
<line x1="190.65" y1="604.98" x2="197.15" y2="604.98" stroke="#000" stroke-width="1.4"/>
<rect x="184.15" y="610.72" width="19.5" height="47.98" fill="#000" stroke="#000" stroke-width="1.4"/>
<line x1="98.9" y1="579" x2="98.9" y2="658.7" stroke="#000" stroke-width="1.4"/>
<line x1="95.3" y1="658.7" x2="212.9" y2="658.7" stroke="#000" stroke-width="1.4"/>
<text x="88.9" y="663" font-size="12" text-anchor="end">0</text>
<line x1="95.3" y1="642.76" x2="98.9" y2="642.76" stroke="#000" stroke-width="1.4"/>
<text x="88.9" y="647.06" font-size="12" text-anchor="end">10</text>
<line x1="95.3" y1="626.82" x2="98.9" y2="626.82" stroke="#000" stroke-width="1.4"/>
<text x="88.9" y="631.12" font-size="12" text-anchor="end">20</text>
<line x1="95.3" y1="610.88" x2="98.9" y2="610.88" stroke="#000" stroke-width="1.4"/>
<text x="88.9" y="615.18" font-size="12" text-anchor="end">30</text>
<line x1="95.3" y1="594.94" x2="98.9" y2="594.94" stroke="#000" stroke-width="1.4"/>
<text x="88.9" y="599.24" font-size="12" text-anchor="end">40</text>
<line x1="95.3" y1="579" x2="98.9" y2="579" stroke="#000" stroke-width="1.4"/>
<text x="88.9" y="583.3" font-size="12" text-anchor="end">50</text>
<text x="116.3" y="675.3" font-size="12" text-anchor="middle">Normal</text>
<text x="155.5" y="675.3" font-size="12" text-anchor="middle">Mild</text>
<text x="194.7" y="675.3" font-size="12" text-anchor="middle">Severe</text>
<text x="161.85" y="570.8" font-size="12" text-anchor="middle">Total ossification</text>
<line x1="116.1" y1="595" x2="192.8" y2="595" stroke="#000" stroke-width="1.5"/>
<text x="155.1" y="599" font-size="20.5" text-anchor="middle">*</text>
<rect x="430.9" y="601.1" width="31.3" height="11.9" fill="#fff" stroke="#000" stroke-width="1.5"/>
<text x="471.8" y="613.6" font-size="17.95" text-anchor="start">Normal (Non-fatty liver)</text>
<rect x="430.9" y="623.2" width="31.3" height="11.9" fill="#adadad" stroke="#000" stroke-width="1.5"/>
<text x="471.8" y="635.1" font-size="17.95" text-anchor="start">Mild (Mild fatty liver)</text>
<rect x="430.9" y="644.6" width="31.3" height="11.9" fill="#000" stroke="#000" stroke-width="1.5"/>
<text x="471.8" y="656.6" font-size="17.95" text-anchor="start">Severe (Severe fatty liver)</text>
</svg>
</body></html>
